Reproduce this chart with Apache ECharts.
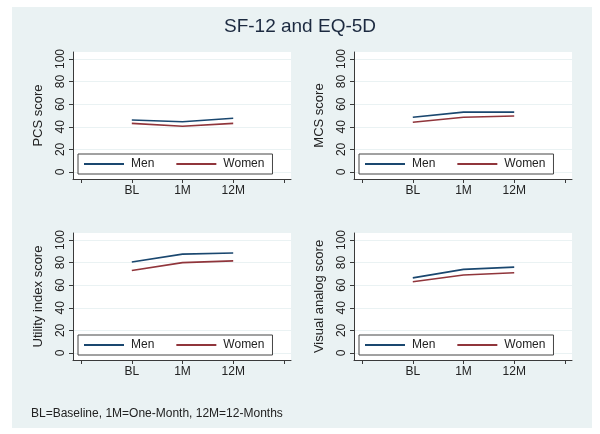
<!DOCTYPE html>
<html>
<head>
<meta charset="utf-8">
<script src="https://cdn.jsdelivr.net/npm/echarts@6/dist/echarts.min.js"></script>
<style>
html, body { margin: 0; padding: 0; background: #fff; }
#wrap { position: relative; width: 600px; height: 434px; }
#bg { position: absolute; left: 12px; top: 7px; width: 580px; height: 421px; background: #eaf2f3; }
#chart { position: absolute; left: 0; top: 0; width: 600px; height: 434px; }
</style>
</head>
<body>
<div id="wrap"><div id="bg"></div><div id="chart"></div></div>
<script>
const categories = ['BL', '1M', '12M']
const yTicks = [0, 20, 40, 60, 80, 100]
const xTicks = [0, 1, 2, 3, 4]

const pcsMen = [46, 44.5, 47.5]
const pcsWomen = [43, 40.5, 43]
const mcsMen = [48.5, 53, 53]
const mcsWomen = [44, 48.5, 49.5]
const utilityMen = [80.5, 87.5, 88.5]
const utilityWomen = [73, 80, 81.5]
const vasMen = [66.5, 74, 76]
const vasWomen = [63, 69, 71]

const panels = [
    { label: 'PCS score', men: pcsMen, women: pcsWomen, left: 73, top: 52 },
    { label: 'MCS score', men: mcsMen, women: mcsWomen, left: 354, top: 52 },
    { label: 'Utility index score', men: utilityMen, women: utilityWomen, left: 73, top: 233 },
    { label: 'Visual analog score', men: vasMen, women: vasWomen, left: 354, top: 233 }
]

const axisColor = '#3a3a3a'
const textColor = '#222'
const font = 'Liberation Sans, Arial, sans-serif'

const toPoints = (vals) => vals.map((v, i) => [i + 1, v])

const option = {
    animation: false,
    title: [
        {
            text: 'SF-12 and EQ-5D',
            left: 'center',
            top: 12,
            textStyle: { color: '#1c2a40', fontSize: 19, fontWeight: 'normal', fontFamily: font }
        },
        {
            text: 'BL=Baseline, 1M=One-Month, 12M=12-Months',
            left: 26,
            top: 403,
            textStyle: { color: textColor, fontSize: 12, fontWeight: 'normal', fontFamily: font }
        }
    ],
    grid: [],
    xAxis: [],
    yAxis: [],
    legend: [],
    series: []
}

panels.forEach((p, i) => {
    option.grid.push({
        left: p.left,
        top: p.top,
        width: 218,
        height: 127,
        show: true,
        backgroundColor: '#fff',
        borderWidth: 0
    })

    option.xAxis.push({
        gridIndex: i,
        type: 'value',
        min: -0.16,
        max: 4.14,
        axisLine: { show: true, onZero: false, lineStyle: { color: axisColor, width: 1 } },
        axisTick: { show: true, length: 4, customValues: xTicks, lineStyle: { color: axisColor } },
        axisLabel: {
            customValues: [1, 2, 3],
            color: textColor,
            fontSize: 12,
            fontFamily: font,
            margin: 6,
            formatter: (v) => categories[Math.round(v) - 1] || ''
        },
        splitLine: { show: false }
    })

    option.yAxis.push({
        gridIndex: i,
        type: 'value',
        min: -6.2,
        max: 106.2,
        name: p.label,
        nameLocation: 'middle',
        nameGap: 28,
        nameTextStyle: { color: textColor, fontSize: 13, fontFamily: font },
        axisLine: { show: true, onZero: false, lineStyle: { color: axisColor, width: 1 } },
        axisTick: { show: true, length: 4, customValues: yTicks, lineStyle: { color: axisColor } },
        axisLabel: {
            customValues: yTicks,
            rotate: 90,
            color: textColor,
            fontSize: 12,
            fontFamily: font,
            margin: 6
        },
        splitLine: { show: true, customValues: yTicks, lineStyle: { color: '#eaf2f3', width: 1 } }
    })

    option.legend.push({
        left: p.left + 5,
        top: p.top + 102,
        data: ['Men', 'Women'],
        icon: 'rect',
        itemWidth: 40,
        itemHeight: 2,
        itemGap: 22,
        padding: [4, 8, 4, 6],
        backgroundColor: '#fff',
        borderColor: '#444',
        borderWidth: 1,
        borderRadius: 0,
        selectedMode: false,
        textStyle: { color: textColor, fontSize: 12, fontFamily: font, padding: [0, 0, 0, 2] }
    })

    option.series.push(
        {
            name: 'Men',
            type: 'line',
            xAxisIndex: i,
            yAxisIndex: i,
            data: toPoints(p.men),
            symbol: 'none',
            color: '#1a476f',
            lineStyle: { color: '#1a476f', width: 1.6 }
        },
        {
            name: 'Women',
            type: 'line',
            xAxisIndex: i,
            yAxisIndex: i,
            data: toPoints(p.women),
            symbol: 'none',
            color: '#90353b',
            lineStyle: { color: '#90353b', width: 1.6 }
        }
    )
})

const myChart = echarts.init(document.getElementById('chart'))
myChart.setOption(option)
</script>
</body>
</html>
